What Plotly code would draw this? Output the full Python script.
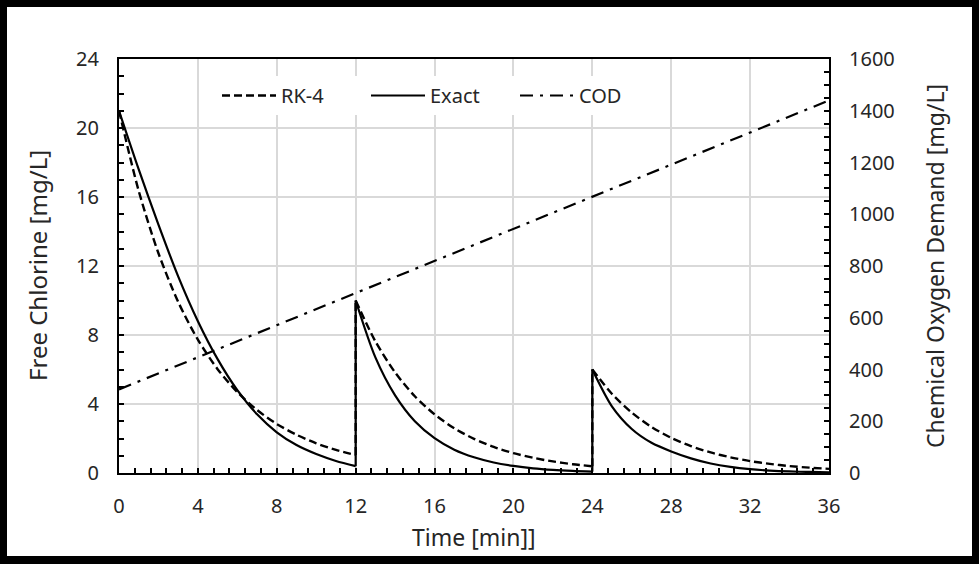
import plotly.graph_objects as go

# ---------------- data ----------------
T_SEG1 = [0, 1, 2, 3, 4, 5, 6, 7, 8, 9, 10, 11, 12]
T_SEG2 = [12, 13, 14, 15, 16, 17, 18, 19, 20, 21, 22, 23, 24]
T_SEG3 = [24, 25, 26, 27, 28, 29, 30, 31, 32, 33, 34, 35, 36]

EXACT_SEG1 = [21.0, 17.6, 14.4, 11.4, 8.8, 6.6, 4.8, 3.4, 2.36, 1.62, 1.1, 0.7, 0.40]
EXACT_SEG2 = [10.0, 6.7, 4.5, 3.0, 2.02, 1.35, 0.91, 0.61, 0.41, 0.27, 0.18, 0.12, 0.08]
EXACT_SEG3 = [6.0, 3.85, 2.55, 1.75, 1.25, 0.85, 0.55, 0.35, 0.22, 0.14, 0.09, 0.06, 0.04]

RK4_SEG1 = [21.0, 16.35, 12.74, 9.92, 7.73, 6.02, 4.69, 3.65, 2.84, 2.22, 1.72, 1.34, 1.04]
RK4_SEG2 = [10.0, 7.63, 5.83, 4.45, 3.40, 2.59, 1.98, 1.51, 1.15, 0.88, 0.67, 0.51, 0.39]
RK4_SEG3 = [6.0, 4.58, 3.50, 2.67, 2.04, 1.56, 1.19, 0.91, 0.69, 0.53, 0.40, 0.31, 0.24]

COD_T = [0, 12, 24, 36]
COD_VALUES = [323, 695, 1067, 1440]

X_TICKS = [0, 4, 8, 12, 16, 20, 24, 28, 32, 36]
Y_TICKS = [0, 4, 8, 12, 16, 20, 24]
Y2_TICKS = [0, 200, 400, 600, 800, 1000, 1200, 1400, 1600]

FONT = "Noto Sans"
TXT = "#262626"

# plot-area geometry in pixels (figure 979 x 564)
W, H = 979, 564
L, R, T, B = 119, 829, 59, 473


def px_x(p):
    return (p - L) / (R - L)


def px_y(p):
    return (B - p) / (B - T)


def join_segments(segs_t, segs_v):
    xs, ys = [], []
    prev_end = None
    for i, (st, sv) in enumerate(zip(segs_t, segs_v)):
        if i > 0:
            # vertical jump (dose) drawn as its own piece
            xs += [None, st[0], st[0], None]
            ys += [None, prev_end, sv[0], None]
        xs += st
        ys += sv
        prev_end = sv[-1]
    return xs, ys


ex_x, ex_y = join_segments([T_SEG1, T_SEG2, T_SEG3], [EXACT_SEG1, EXACT_SEG2, EXACT_SEG3])
rk_x, rk_y = join_segments([T_SEG1, T_SEG2, T_SEG3], [RK4_SEG1, RK4_SEG2, RK4_SEG3])

fig = go.Figure()
fig.add_trace(go.Scatter(x=rk_x, y=rk_y, name="RK-4", mode="lines",
                         line=dict(color="black", width=2.4, dash="8px,4px", shape="spline", smoothing=0.8),
                         connectgaps=False))
fig.add_trace(go.Scatter(x=ex_x, y=ex_y, name="Exact", mode="lines",
                         line=dict(color="black", width=2.2, shape="spline", smoothing=0.8),
                         connectgaps=False))
fig.add_trace(go.Scatter(x=COD_T, y=COD_VALUES, name="COD", mode="lines", yaxis="y2",
                         line=dict(color="black", width=2.2, dash="13px,7px,3px,7px")))

axis_common = dict(
    showline=True, linecolor="black", linewidth=2,
    ticks="inside", ticklen=5, tickwidth=1.5, tickcolor="black",
    tickfont=dict(family=FONT, size=20, color=TXT),
    zeroline=False, ticklabelstandoff=14,
)

fig.update_layout(
    width=W, height=H,
    margin=dict(l=L, r=W - R, t=T, b=H - B),
    paper_bgcolor="white", plot_bgcolor="white",
    font=dict(family=FONT, color=TXT),
    showlegend=True,
    legend=dict(orientation="h", x=px_x(217), y=px_y(76), xanchor="left", yanchor="top",
                bgcolor="white", font=dict(family=FONT, size=20, color=TXT),
                itemwidth=54, entrywidth=80, entrywidthmode="pixels",
                tracegroupgap=0),
    xaxis=dict(range=[0, 36], tickvals=X_TICKS, showgrid=True, gridcolor="#d9d9d9", gridwidth=1.5,
               mirror=True,
               minor=dict(dtick=0.8, tick0=0, ticks="inside", ticklen=5, tickcolor="black", showgrid=False),
               **axis_common),
    yaxis=dict(range=[0, 24], tickvals=Y_TICKS, showgrid=True, gridcolor="#d9d9d9", gridwidth=1.5,
               minor=dict(dtick=1, tick0=0, ticks="inside", ticklen=5, tickcolor="black", showgrid=False),
               **axis_common),
    yaxis2=dict(range=[0, 1600], tickvals=Y2_TICKS, overlaying="y", side="right", showgrid=False,
                minor=dict(dtick=50, tick0=0, ticks="inside", ticklen=5, tickcolor="black", showgrid=False),
                **axis_common),
)

# axis titles as annotations
fig.add_annotation(text="Time [min]]", xref="paper", yref="paper", x=px_x(474), y=px_y(537),
                   xanchor="center", yanchor="middle",
                   showarrow=False, font=dict(family=FONT, size=23, color=TXT))
fig.add_annotation(text="Free Chlorine [mg/L]", xref="paper", yref="paper", x=px_x(37), y=px_y(266),
                   xanchor="center", yanchor="middle",
                   showarrow=False, textangle=-90, font=dict(family=FONT, size=24, color=TXT))
fig.add_annotation(text="Chemical Oxygen Demand [mg/L]", xref="paper", yref="paper", x=px_x(935), y=px_y(266),
                   xanchor="center", yanchor="middle",
                   showarrow=False, textangle=-90, font=dict(family=FONT, size=23, color=TXT))

# black frame around the whole picture
def band(x0, y0, x1, y1, color="black"):
    fig.add_shape(type="rect", xref="paper", yref="paper",
                  x0=px_x(x0), x1=px_x(x1), y0=px_y(y1), y1=px_y(y0),
                  line=dict(width=0), fillcolor=color, layer="above")

band(0, 0, W, 7)
band(0, 556, W, H)
band(0, 0, 7, H)
band(972, 0, W, H)

fig.write_html("out.html")
